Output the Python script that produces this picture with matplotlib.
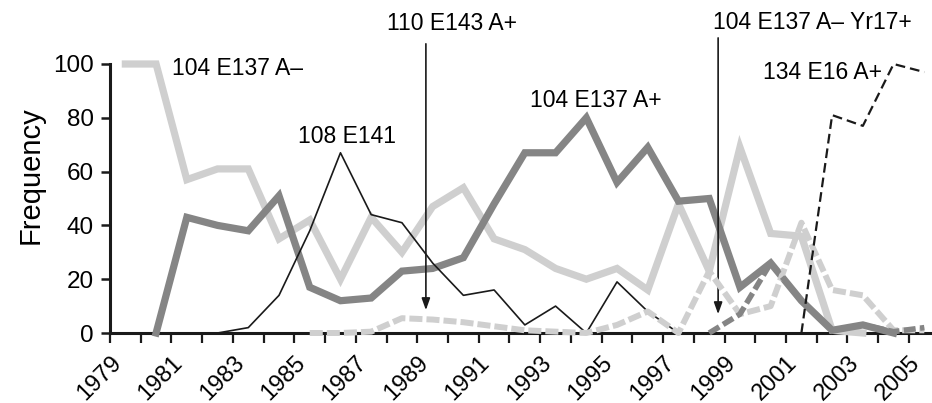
import numpy as np
import matplotlib
matplotlib.use("Agg")
import matplotlib.pyplot as plt
from matplotlib.transforms import ScaledTranslation

plt.rcParams['font.family'] = ['Liberation Sans', 'DejaVu Sans']
plt.rcParams['lines.scale_dashes'] = False

nan = np.nan
years = np.arange(1979, 2006)

a_minus = [100, 100, 57, 61, 61, 35, 42, 20, 43, 30, 47, 54, 35, 31, 24, 20, 24, 16,
           48, 23, 69, 37, 36, 1, 0, nan, nan]
a_plus = [nan, 0, 43, 40, 38, 51, 17, 12, 13, 23, 24, 28, 48, 67, 67, 80, 56, 69,
          49, 50, 17, 26, 12, 1, 3, 0, nan]
e141 = [nan, nan, nan, 0, 2, 14, 38, 67, 44, 41, 26, 14, 16, 3, 10, 0, 19, 8,
        0, nan, nan, nan, nan, nan, nan, nan, nan]
e143 = [nan, nan, nan, nan, nan, nan, 0, 0, 0.5, 5.5, 5, 4, 2.5, 1, 0.5, 0, 3, 8,
        0, 23, 7, 10, 41, 16, 14, 1, 1]
yr17 = [nan] * 19 + [0, 7, 26, 12, 1, 3, 0.5, 2]
e16 = [nan] * 22 + [0, 81, 77, 100, 97]

tick_labels = [str(y) if (y - 1979) % 2 == 0 else '' for y in range(1979, 2006)]

fig = plt.figure(figsize=(9.32, 4.03), dpi=100)
ax = fig.add_axes([110 / 932, 70 / 403, 1 - 110 / 932, 269 / 403])

x = years + 0.5
light = '#cfcfcf'
dark = '#858585'

ax.plot(x, a_minus, color=light, lw=5.2, solid_joinstyle='miter', clip_on=False, zorder=2)
ax.plot(x, a_plus, color=dark, lw=5.2, solid_joinstyle='miter', clip_on=False, zorder=3)
ax.plot(x, e141, color='#1a1a1a', lw=1.2, clip_on=False, zorder=4)
l1, = ax.plot(x, e143, color=light, lw=4.3, clip_on=False, zorder=5)
l1.set_dashes([9.4, 2.9])
l2, = ax.plot(x, yr17, color=dark, lw=4.0, clip_on=False, zorder=6)
l2.set_dashes([8.5, 3.2])
l3, = ax.plot(x, e16, color='#1a1a1a', lw=1.6, clip_on=False, zorder=7)
l3.set_dashes([7, 3.6])

ax.set_xlim(1979, 2005.75)
ax.set_ylim(0, 100)
ax.set_xticks(years)
ax.set_xticklabels(tick_labels, rotation=45, ha='right', va='top', rotation_mode='anchor',
                   fontsize=17)
off = ScaledTranslation(8 / 100, -1 / 100, fig.dpi_scale_trans)
for lab in ax.get_xticklabels():
    lab.set_transform(lab.get_transform() + off)
ax.set_yticks([0, 20, 40, 60, 80, 100])
ax.tick_params(axis='y', labelsize=17.5, length=6.5, width=1.8, direction='out', pad=5,
               color='#1a1a1a')
ax.tick_params(axis='x', length=7.5, width=1.6, direction='out', pad=6, color='#1a1a1a')
for s in ['top', 'right']:
    ax.spines[s].set_visible(False)
for s in ['left', 'bottom']:
    ax.spines[s].set_linewidth(2.2)
    ax.spines[s].set_color('#1a1a1a')
    ax.spines[s].set_zorder(1)

ax.set_ylabel('Frequency', fontsize=21)
ax.yaxis.set_label_coords(-0.08, 0.587)

fs = 16.5
ax.text(1981.02, 98.5, '104 E137 A–', fontsize=fs, ha='left', va='center')
ax.text(1985.12, 73.2, '108 E141', fontsize=fs, ha='left', va='center')
ax.text(1992.68, 86.6, '104 E137 A+', fontsize=fs, ha='left', va='center')
ax.text(1988.02, 115.2, '110 E143 A+', fontsize=fs, ha='left', va='center', clip_on=False)
ax.text(1998.61, 115.6, '104 E137 A– Yr17+', fontsize=fs, ha='left', va='center', clip_on=False)
ax.text(2000.24, 97.0, '134 E16 A+', fontsize=fs, ha='left', va='center')

arrowprops = dict(arrowstyle='-|>,head_length=0.7,head_width=0.25', color='#1a1a1a', lw=1.2,
                  shrinkA=0, shrinkB=0)
ax.annotate('', xy=(1989.28, 8.5), xytext=(1989.28, 107.5), arrowprops=arrowprops,
            annotation_clip=False)
ax.annotate('', xy=(1998.79, 7.0), xytext=(1998.79, 109.7), arrowprops=arrowprops,
            annotation_clip=False)

fig.savefig('out.png', dpi=100)
